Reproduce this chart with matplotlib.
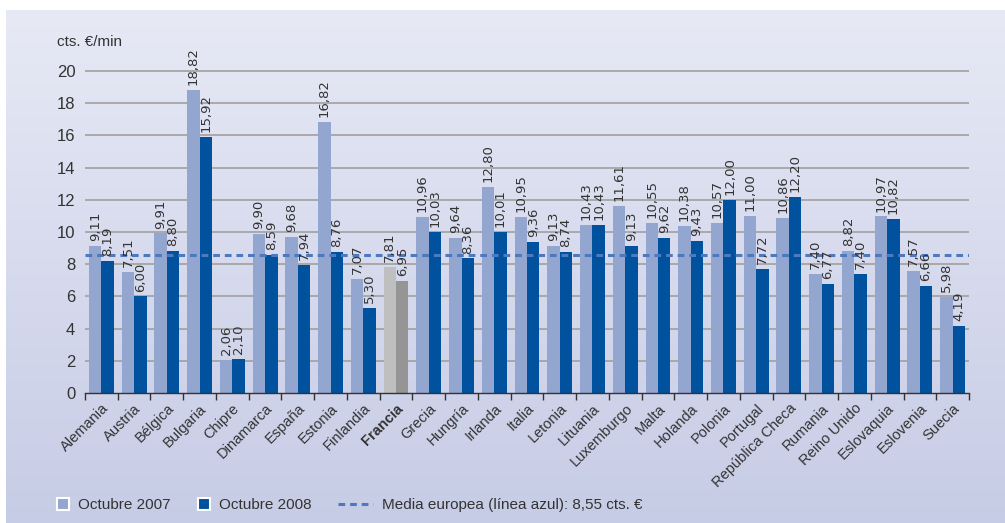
import numpy as np
import matplotlib
matplotlib.use("Agg")
import matplotlib.pyplot as plt
from matplotlib.patches import Patch
from matplotlib.lines import Line2D

countries = ["Alemania", "Austria", "Bélgica", "Bulgaria", "Chipre", "Dinamarca",
             "España", "Estonia", "Finlandia", "Francia", "Grecia", "Hungría",
             "Irlanda", "Italia", "Letonia", "Lituania", "Luxemburgo", "Malta",
             "Holanda", "Polonia", "Portugal", "República Checa", "Rumania",
             "Reino Unido", "Eslovaquia", "Eslovenia", "Suecia"]
oct2007 = [9.11, 7.51, 9.91, 18.82, 2.06, 9.90, 9.68, 16.82, 7.07, 7.81, 10.96, 9.64,
           12.80, 10.95, 9.13, 10.43, 11.61, 10.55, 10.38, 10.57, 11.00, 10.86, 7.40,
           8.82, 10.97, 7.57, 5.98]
oct2008 = [8.19, 6.00, 8.80, 15.92, 2.10, 8.59, 7.94, 8.76, 5.30, 6.95, 10.03, 8.36,
           10.01, 9.36, 8.74, 10.43, 9.13, 9.62, 9.43, 12.00, 7.72, 12.20, 6.77,
           7.40, 10.82, 6.66, 4.19]
media = 8.55
yticks = list(range(0, 21, 2))

LIGHT = "#93a6d0"
DARK = "#00519e"
GRAY_L = "#bfbfbf"
GRAY_D = "#959595"
MEDIA_C = "#4c79bf"
TXT = "#333333"

plt.rcParams["font.family"] = ["Liberation Sans", "DejaVu Sans"]

W, H = 1005, 523
fig = plt.figure(figsize=(W / 100, H / 100), dpi=100)
fig.patch.set_facecolor("white")

# gradient panel behind everything
bg = fig.add_axes([6 / W, 0, 1 - 6 / W, 1 - 10 / H], zorder=-10)
grad = np.linspace(0, 1, 256).reshape(-1, 1)
top = np.array([231, 233, 245]) / 255
bot = np.array([199, 204, 230]) / 255
img = top + (bot - top) * grad[..., None]
bg.imshow(img, aspect="auto", extent=[0, 1, 0, 1])
bg.set_axis_off()

y0, ppu = 393, 16.1
ymax = 21
ax = fig.add_axes([85 / W, 1 - y0 / H, (969 - 85) / W, ymax * ppu / H])
ax.patch.set_alpha(0)

x = np.arange(len(countries))
bw = 0.38
c1 = [GRAY_L if c == "Francia" else LIGHT for c in countries]
c2 = [GRAY_D if c == "Francia" else DARK for c in countries]
b1 = ax.bar(x - bw / 2, oct2007, bw, color=c1, zorder=3)
b2 = ax.bar(x + bw / 2, oct2008, bw, color=c2, zorder=3)

for bars, vals in ((b1, oct2007), (b2, oct2008)):
    for r, v in zip(bars, vals):
        ax.annotate(f"{v:.2f}".replace(".", ","),
                    (r.get_x() + r.get_width() / 2, v),
                    xytext=(0, 3.5), textcoords="offset points",
                    rotation=90, ha="center", va="bottom",
                    fontsize=9.5, family="DejaVu Sans", color=TXT,
                    annotation_clip=False, zorder=5)

ax.axhline(media, color=MEDIA_C, lw=2.2, dashes=(2.2, 1.6), zorder=4)

ax.set_xlim(-0.5, len(countries) - 0.5)
ax.set_ylim(0, ymax)
ax.set_yticks(yticks)
ax.tick_params(axis="y", length=0, pad=7, labelsize=12, labelcolor=TXT)
ax.yaxis.grid(True, color="#a0a0a0", lw=1.2, zorder=1)
ax.yaxis.get_gridlines()[0].set_visible(False)

ax.set_xticks(x)
ax.set_xticklabels(countries, rotation=45, ha="right", rotation_mode="anchor")
ax.set_xticks(np.arange(-0.5, len(countries)), minor=True)
ax.tick_params(axis="x", which="major", length=0, pad=6, labelsize=10.5, labelcolor=TXT)
ax.tick_params(axis="x", which="minor", length=5, width=1, color=TXT, direction="out")
for lab in ax.get_xticklabels():
    if lab.get_text() == "Francia":
        lab.set_fontweight("bold")

for s in ("left", "right", "top"):
    ax.spines[s].set_visible(False)
ax.spines["bottom"].set_color(TXT)
ax.spines["bottom"].set_linewidth(1)
ax.spines["bottom"].set_zorder(6)

fig.text(57 / W, 1 - 42 / H, "cts. €/min", fontsize=11, color=TXT, va="center", ha="left")

# legend: three entries pinned to their own x positions
yl = 1 - 505 / H
entries = [
    (Patch(facecolor=LIGHT, edgecolor="white", lw=1.5), "Octubre 2007", 57, 0.8),
    (Patch(facecolor=DARK, edgecolor="white", lw=1.5), "Octubre 2008", 198, 0.8),
    (Line2D([], [], color=MEDIA_C, lw=2.2, dashes=(2.2, 1.6)),
     "Media europea (línea azul): 8,55 cts. €", 338, 2.3),
]
for h, lab, px, hl in entries:
    fig.legend([h], [lab], loc="center left", bbox_to_anchor=(px / W, yl),
               frameon=False, fontsize=11, handlelength=hl,
               handleheight=0.85, handletextpad=0.55, borderpad=0,
               borderaxespad=0, labelcolor=TXT)

fig.savefig("out.png", dpi=100)
